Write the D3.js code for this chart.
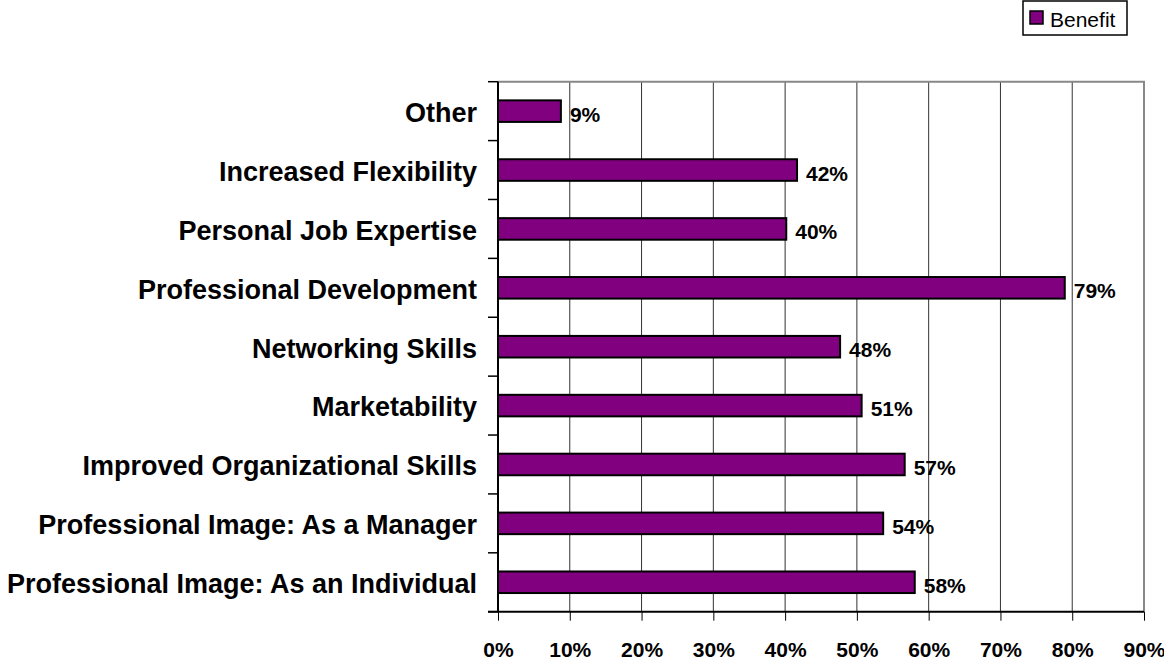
<!DOCTYPE html>
<html>
<head>
<meta charset="utf-8">
<script src="https://cdn.jsdelivr.net/npm/d3@7"></script>
<style>
  body { margin: 0; background: #fff; }
  svg { display: block; font-family: "Liberation Sans", Arial, sans-serif; }
</style>
</head>
<body>
<div id="chart"></div>
<script>
// categories, top to bottom as drawn
const categories = [
    "Other",
    "Increased Flexibility",
    "Personal Job Expertise",
    "Professional Development",
    "Networking Skills",
    "Marketability",
    "Improved Organizational Skills",
    "Professional Image: As a Manager",
    "Professional Image: As an Individual"
];
const benefit = [0.089, 0.418, 0.403, 0.791, 0.478, 0.508, 0.568, 0.538, 0.582];
const xTicks = [0, 0.1, 0.2, 0.3, 0.4, 0.5, 0.6, 0.7, 0.8, 0.9];
const seriesName = "Benefit";

const width = 1164;
const height = 660;
const purple = "#800080";

const plotLeft = 498, plotRight = 1144, plotTop = 81.7, plotBottom = 611.7;

const svg = d3.select("#chart")
    .append("svg")
    .attr("width", width)
    .attr("height", height);

const x = d3.scaleLinear()
    .domain([0, 0.9])
    .range([plotLeft, plotRight]);

const y = d3.scaleBand()
    .domain(categories)
    .range([plotTop, plotBottom])
    .paddingInner(0.6)
    .paddingOuter(0.3);

// grid lines
svg.append("g")
    .selectAll("line")
    .data(xTicks.slice(1, -1))
    .enter()
    .append("line")
    .attr("x1", d => x(d))
    .attr("x2", d => x(d))
    .attr("y1", plotTop)
    .attr("y2", plotBottom)
    .attr("stroke", "#333")
    .attr("stroke-width", 1);

// plot border top and right (grey)
svg.append("path")
    .attr("d", `M${plotLeft},${plotTop}H${plotRight}V${plotBottom}`)
    .attr("fill", "none")
    .attr("stroke", "#888")
    .attr("stroke-width", 2);

// bars
svg.append("g")
    .selectAll("rect")
    .data(benefit)
    .enter()
    .append("rect")
    .attr("x", x(0))
    .attr("y", (d, i) => y(categories[i]) + 1)
    .attr("width", d => x(d) - x(0) - 1)
    .attr("height", y.bandwidth() - 2)
    .attr("fill", purple)
    .attr("stroke", "#000")
    .attr("stroke-width", 2);

// value labels
svg.append("g")
    .selectAll("text")
    .data(benefit)
    .enter()
    .append("text")
    .attr("x", d => x(d) + 8)
    .attr("y", (d, i) => y(categories[i]) + y.bandwidth() / 2 + 3)
    .attr("dominant-baseline", "central")
    .attr("font-size", 21)
    .attr("font-weight", "bold")
    .text(d => Math.round(d * 100) + "%");

// x axis
const xAxis = svg.append("g")
    .attr("transform", `translate(0,${plotBottom})`)
    .call(d3.axisBottom(x)
        .tickValues(xTicks)
        .tickFormat(d3.format(".0%"))
        .tickSize(9)
        .tickSizeOuter(0)
        .tickPadding(21));
xAxis.select(".domain")
    .attr("d", `M${plotLeft - 10},0H${plotRight}`)
    .attr("stroke", "#000")
    .attr("stroke-width", 2);
xAxis.selectAll(".tick line").attr("stroke", "#000");
xAxis.selectAll(".tick text")
    .attr("font-size", 21)
    .attr("font-weight", "bold")
    .attr("font-family", "Liberation Sans, Arial, sans-serif")
    .attr("fill", "#000");

// y axis: labels centred on bands, ticks on band boundaries
const yAxis = svg.append("g")
    .attr("transform", `translate(${plotLeft},0)`)
    .call(d3.axisLeft(y).tickSize(0).tickPadding(21));
yAxis.select(".domain")
    .attr("d", `M0,${plotTop}V${plotBottom}`)
    .attr("stroke", "#000")
    .attr("stroke-width", 2);
yAxis.selectAll(".tick text")
    .attr("font-size", 27)
    .attr("font-weight", "bold")
    .attr("font-family", "Liberation Sans, Arial, sans-serif")
    .attr("fill", "#000")
    .attr("dy", "0.4em");

const boundaries = d3.range(categories.length + 1).map(i => plotTop + i * y.step());
yAxis.selectAll(".bound")
    .data(boundaries)
    .enter()
    .append("line")
    .attr("class", "bound")
    .attr("x1", -10)
    .attr("x2", 0)
    .attr("y1", d => d)
    .attr("y2", d => d)
    .attr("stroke", "#000")
    .attr("stroke-width", 1.5);

// legend
const legend = svg.append("g").attr("transform", "translate(1023,1)");
legend.append("rect")
    .attr("width", 104)
    .attr("height", 34)
    .attr("fill", "#fff")
    .attr("stroke", "#000")
    .attr("stroke-width", 1.5);
legend.append("rect")
    .attr("x", 7)
    .attr("y", 10)
    .attr("width", 13)
    .attr("height", 13)
    .attr("fill", purple)
    .attr("stroke", "#000")
    .attr("stroke-width", 1.5);
legend.append("text")
    .attr("x", 27)
    .attr("y", 26)
    .attr("font-size", 21)
    .text(seriesName);
</script>
</body>
</html>
